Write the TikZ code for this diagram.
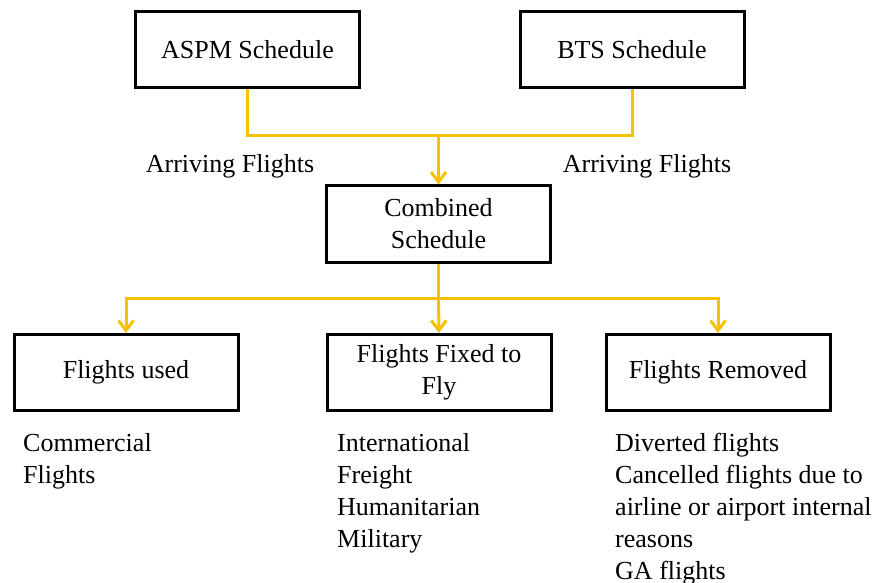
\documentclass[tikz,border=0pt]{standalone}
\usepackage{fontspec}
\setmainfont{Liberation Serif}
\usepackage{xcolor}
\usetikzlibrary{arrows.meta,positioning}

\definecolor{flowyellow}{RGB}{246,194,0}

\begin{document}
\begin{tikzpicture}[
    x=1pt, y=-1pt,
    box/.style={rectangle, draw, line width=3pt, minimum width=224pt, minimum height=76pt,
                font=\fontsize{26}{32}\selectfont, align=center, inner sep=2pt},
    link/.style={draw=flowyellow, line width=3pt},
    arrow/.style={link, -{Straight Barb[length=10pt,width=15pt]}},
    note/.style={font=\fontsize{26}{32}\selectfont, align=left, inner sep=0pt, anchor=north west},
    flowlabel/.style={font=\fontsize{26}{32}\selectfont, anchor=base}
]
\useasboundingbox (0,0) rectangle (876,583);

\node[box] (aspm) at (247.5,49.5) {ASPM Schedule};
\node[box] (bts) at (632,49.5) {BTS Schedule};
\node[box] (combined) at (438.5,224) {Combined\\Schedule};

\node[box] (used) at (126,372.5) {Flights used};
\node[box] (fixed) at (439,372.5) {Flights Fixed to\\Fly};
\node[box] (removed) at (718,372.5) {Flights Removed};

% merge of both schedules
\coordinate (join) at (438.5,136);
\draw[link] (aspm.south) |- (join) -| (bts.south);
\draw[arrow] (join) -- (combined.north);

\node[flowlabel] (arrleft) at (230,172) {Arriving Flights};
\node[flowlabel] (arrright) at (647,172) {Arriving Flights};

% split into the three groups
\coordinate (split) at (438.5,298);
\draw[link] (combined.south) -- (split);
\draw[arrow] (split) -| (used.north);
\draw[arrow] (split) -- (fixed.north);
\draw[arrow] (split) -| (removed.north);

\node[note] (usedlist) at (23,433) {Commercial\\Flights};
\node[note] (fixedlist) at (337,433) {International\\Freight\\Humanitarian\\Military};
\node[note] (removedlist) at (615,433) {Diverted flights\\Cancelled flights due to\\airline or airport internal\\reasons\\GA flights};

\end{tikzpicture}
\end{document}
